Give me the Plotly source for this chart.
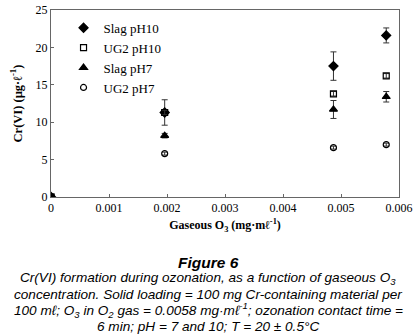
import plotly.graph_objects as go

x_vals = [0, 0.00196, 0.00487, 0.00578]
slag_ph10 = [0, 11.3, 17.5, 21.6]
slag_ph10_err = [0, 1.7, 1.9, 1.0]
ug2_ph10 = [0, 11.3, 13.8, 16.2]
ug2_ph10_err = [0, 0.3, 0.3, 0.3]
slag_ph7 = [0, 8.2, 11.7, 13.4]
slag_ph7_err = [0, 0.3, 1.2, 0.7]
ug2_ph7 = [0, 5.8, 6.6, 7.0]
ug2_ph7_err = [0, 0.2, 0.2, 0.2]

series = [
    ("Slag pH10", slag_ph10, slag_ph10_err, "diamond", 7),
    ("UG2 pH10", ug2_ph10, ug2_ph10_err, "square-open", 6),
    ("Slag pH7", slag_ph7, slag_ph7_err, "triangle-up", 7),
    ("UG2 pH7", ug2_ph7, ug2_ph7_err, "circle-open", 6),
]

fig = go.Figure()
for name, ys, errs, sym, sz in series:
    fig.add_trace(go.Scatter(
        x=x_vals, y=ys, mode="markers", name=name,
        marker=dict(symbol=sym, size=sz, color="black", line=dict(color="black", width=1.2)),
        error_y=dict(type="data", array=errs, visible=True, color="#333", thickness=1, width=3),
    ))
# filled square at origin
fig.add_trace(go.Scatter(x=[x_vals[0]], y=[ug2_ph10[0]], mode="markers", showlegend=False,
                         marker=dict(symbol="square", size=7, color="black")))

serif = "Liberation Serif, Times New Roman, serif"
sans = "Liberation Sans, Arial, sans-serif"

fig.update_layout(
    width=416, height=335,
    margin=dict(l=51, r=17, t=10, b=138, autoexpand=False),
    plot_bgcolor="white", paper_bgcolor="white",
    font=dict(family=serif, size=12, color="black"),
    showlegend=True,
    legend=dict(x=0.036, y=0.985, xanchor="left", yanchor="top", bgcolor="rgba(0,0,0,0)",
                font=dict(family=serif, size=13), itemwidth=30),
    xaxis=dict(range=[0, 0.006], tickvals=[0, 0.001, 0.002, 0.003, 0.004, 0.005, 0.006],
               ticktext=["0", "0.001", "0.002", "0.003", "0.004", "0.005", "0.006"],
               showgrid=False, zeroline=False, showline=True, linecolor="#666", linewidth=1,
               mirror=True, ticks="inside", ticklen=3, tickcolor="#666", automargin=False,
               tickfont=dict(family=serif, size=12), ticklabeloverflow="allow",
               title=dict(text="<b>Gaseous O<sub>3</sub> (mg·mℓ<sup>-1</sup>)</b>",
                          font=dict(family=serif, size=12), standoff=6)),
    yaxis=dict(range=[0, 25], tickvals=[0, 5, 10, 15, 20, 25],
               showgrid=False, zeroline=False, showline=True, linecolor="#666", linewidth=1,
               mirror=True, ticks="inside", ticklen=3, tickcolor="#666", automargin=False,
               tickfont=dict(family=serif, size=12),
               title=dict(text="<b>Cr(VI) (µg·ℓ<sup>-1</sup>)</b>",
                          font=dict(family=serif, size=12.5), standoff=10)),
)

def py(ypx):
    return (197 - ypx) / 187.0

caption = [
    ("<b><i>Figure 6</i></b>", 262, 15.5),
    ("<i>Cr(VI) formation during ozonation, as a function of gaseous O<sub>3</sub></i>", 278, 13.6),
    ("<i>concentration. Solid loading = 100 mg Cr-containing material per</i>", 294, 13.6),
    ("<i>100 mℓ; O<sub>3</sub> in O<sub>2</sub> gas = 0.0058 mg·mℓ<sup>-1</sup>; ozonation contact time =</i>", 310, 13.6),
    ("<i>6 min; pH = 7 and 10; T = 20 ± 0.5°C</i>", 326, 13.6),
]
for txt, ypx, fs in caption:
    fig.add_annotation(text=txt, xref="paper", yref="paper", x=(208 - 51) / 348.0, y=py(ypx),
                       xanchor="center", yanchor="middle", showarrow=False,
                       font=dict(family=sans, size=fs, color="black"))

fig.write_html("out.html", config={"displayModeBar": False},
               post_script="document.body.style.margin='0';document.body.style.overflow='hidden';")
